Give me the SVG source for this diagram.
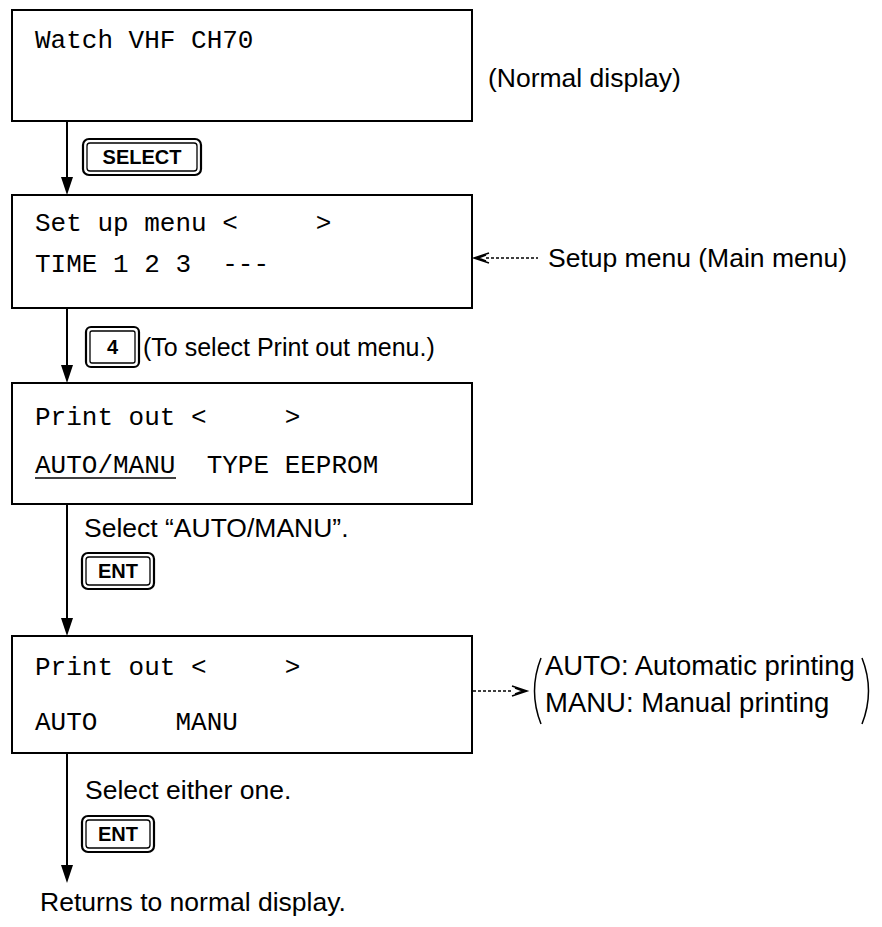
<svg xmlns="http://www.w3.org/2000/svg" width="882" height="927" viewBox="0 0 882 927">
<style>
.box{fill:#fff;stroke:#000;stroke-width:2}
.mono{font-family:"Courier New","Liberation Mono",monospace;font-size:26px;fill:#000;white-space:pre}
.sans{font-family:"Liberation Sans",Arial,sans-serif;font-size:26.5px;fill:#000}
.note{font-family:"Liberation Sans",Arial,sans-serif;font-size:27.5px;fill:#000}
.key{font-family:"Liberation Sans",Arial,sans-serif;font-size:20px;font-weight:bold;fill:#000;text-anchor:middle}
.kout{fill:#fff;stroke:#000;stroke-width:2.2}
.kin{fill:none;stroke:#000;stroke-width:1.3}
.line{stroke:#000;stroke-width:2;fill:none}
.dash{stroke:#000;stroke-width:1.5;fill:none;stroke-dasharray:3 2}
.open{stroke:#000;stroke-width:1.5;fill:none}
</style>
<rect width="882" height="927" fill="#fff"/>

<g id="connectors">
<path class="line" d="M67,121 V177"/><path d="M61,177 L73,177 L67,195 Z"/>
<path class="line" d="M67,308 V365"/><path d="M61,365 L73,365 L67,383 Z"/>
<path class="line" d="M67,504 V618"/><path d="M61,618 L73,618 L67,636 Z"/>
<path class="line" d="M67,753 V865"/><path d="M61,865 L73,865 L67,883 Z"/>
<path class="dash" d="M486,258 H538"/>
<path class="open" d="M489,253 L474,258 L489,263 M486,255 L478,258 L486,261"/>
<path class="dash" d="M473,691 H513"/>
<path class="open" d="M512,686 L527,691 L512,696 M515,688 L523,691 L515,694"/>
</g>

<g id="node-normal">
<rect class="box" x="12" y="10" width="460" height="111"/>
<text class="mono" x="35" y="48">Watch VHF CH70</text>
<text class="sans" x="488" y="87">(Normal display)</text>
</g>

<g id="key-select">
<rect class="kout" x="83" y="139" width="118" height="36" rx="6"/>
<rect class="kin" x="87" y="143" width="110" height="28" rx="3"/>
<text class="key" x="142" y="164">SELECT</text>
</g>

<g id="node-setup">
<rect class="box" x="12" y="195" width="460" height="113"/>
<text class="mono" x="35" y="231">Set up menu &lt;     &gt;</text>
<text class="mono" x="35" y="272">TIME 1 2 3  ---</text>
<text class="sans" x="548" y="267">Setup menu (Main menu)</text>
</g>

<g id="key-4">
<rect class="kout" x="86" y="327" width="53" height="40" rx="5"/>
<rect class="kin" x="90" y="331" width="45" height="32" rx="2"/>
<text class="key" x="112.5" y="354">4</text>
<text class="sans" x="143" y="356" style="font-size:25px">(To select Print out menu.)</text>
</g>

<g id="node-printout">
<rect class="box" x="12" y="383" width="460" height="121"/>
<text class="mono" x="35" y="425">Print out &lt;     &gt;</text>
<text class="mono" x="35" y="473">AUTO/MANU  TYPE EEPROM</text>
<line x1="35" y1="478" x2="176" y2="478" stroke="#000" stroke-width="1.5"/>
</g>

<g id="step-select-automanu">
<text class="sans" x="84" y="537">Select “AUTO/MANU”.</text>
<rect class="kout" x="82" y="553" width="72" height="36" rx="6"/>
<rect class="kin" x="86" y="557" width="64" height="28" rx="3"/>
<text class="key" x="118" y="578">ENT</text>
</g>

<g id="node-automanu">
<rect class="box" x="12" y="636" width="460" height="117"/>
<text class="mono" x="35" y="675">Print out &lt;     &gt;</text>
<text class="mono" x="35" y="730">AUTO     MANU</text>
<path class="open" d="M541,658 Q528,691 541,724"/>
<path class="open" d="M862,658 Q875,691 862,724"/>
<text class="note" x="545" y="675">AUTO: Automatic printing</text>
<text class="note" x="545" y="712">MANU: Manual printing</text>
</g>

<g id="step-select-either">
<text class="sans" x="85" y="799">Select either one.</text>
<rect class="kout" x="82" y="816" width="72" height="36" rx="6"/>
<rect class="kin" x="86" y="820" width="64" height="28" rx="3"/>
<text class="key" x="118" y="841">ENT</text>
</g>

<g id="end">
<text class="sans" x="40" y="911">Returns to normal display.</text>
</g>
</svg>
